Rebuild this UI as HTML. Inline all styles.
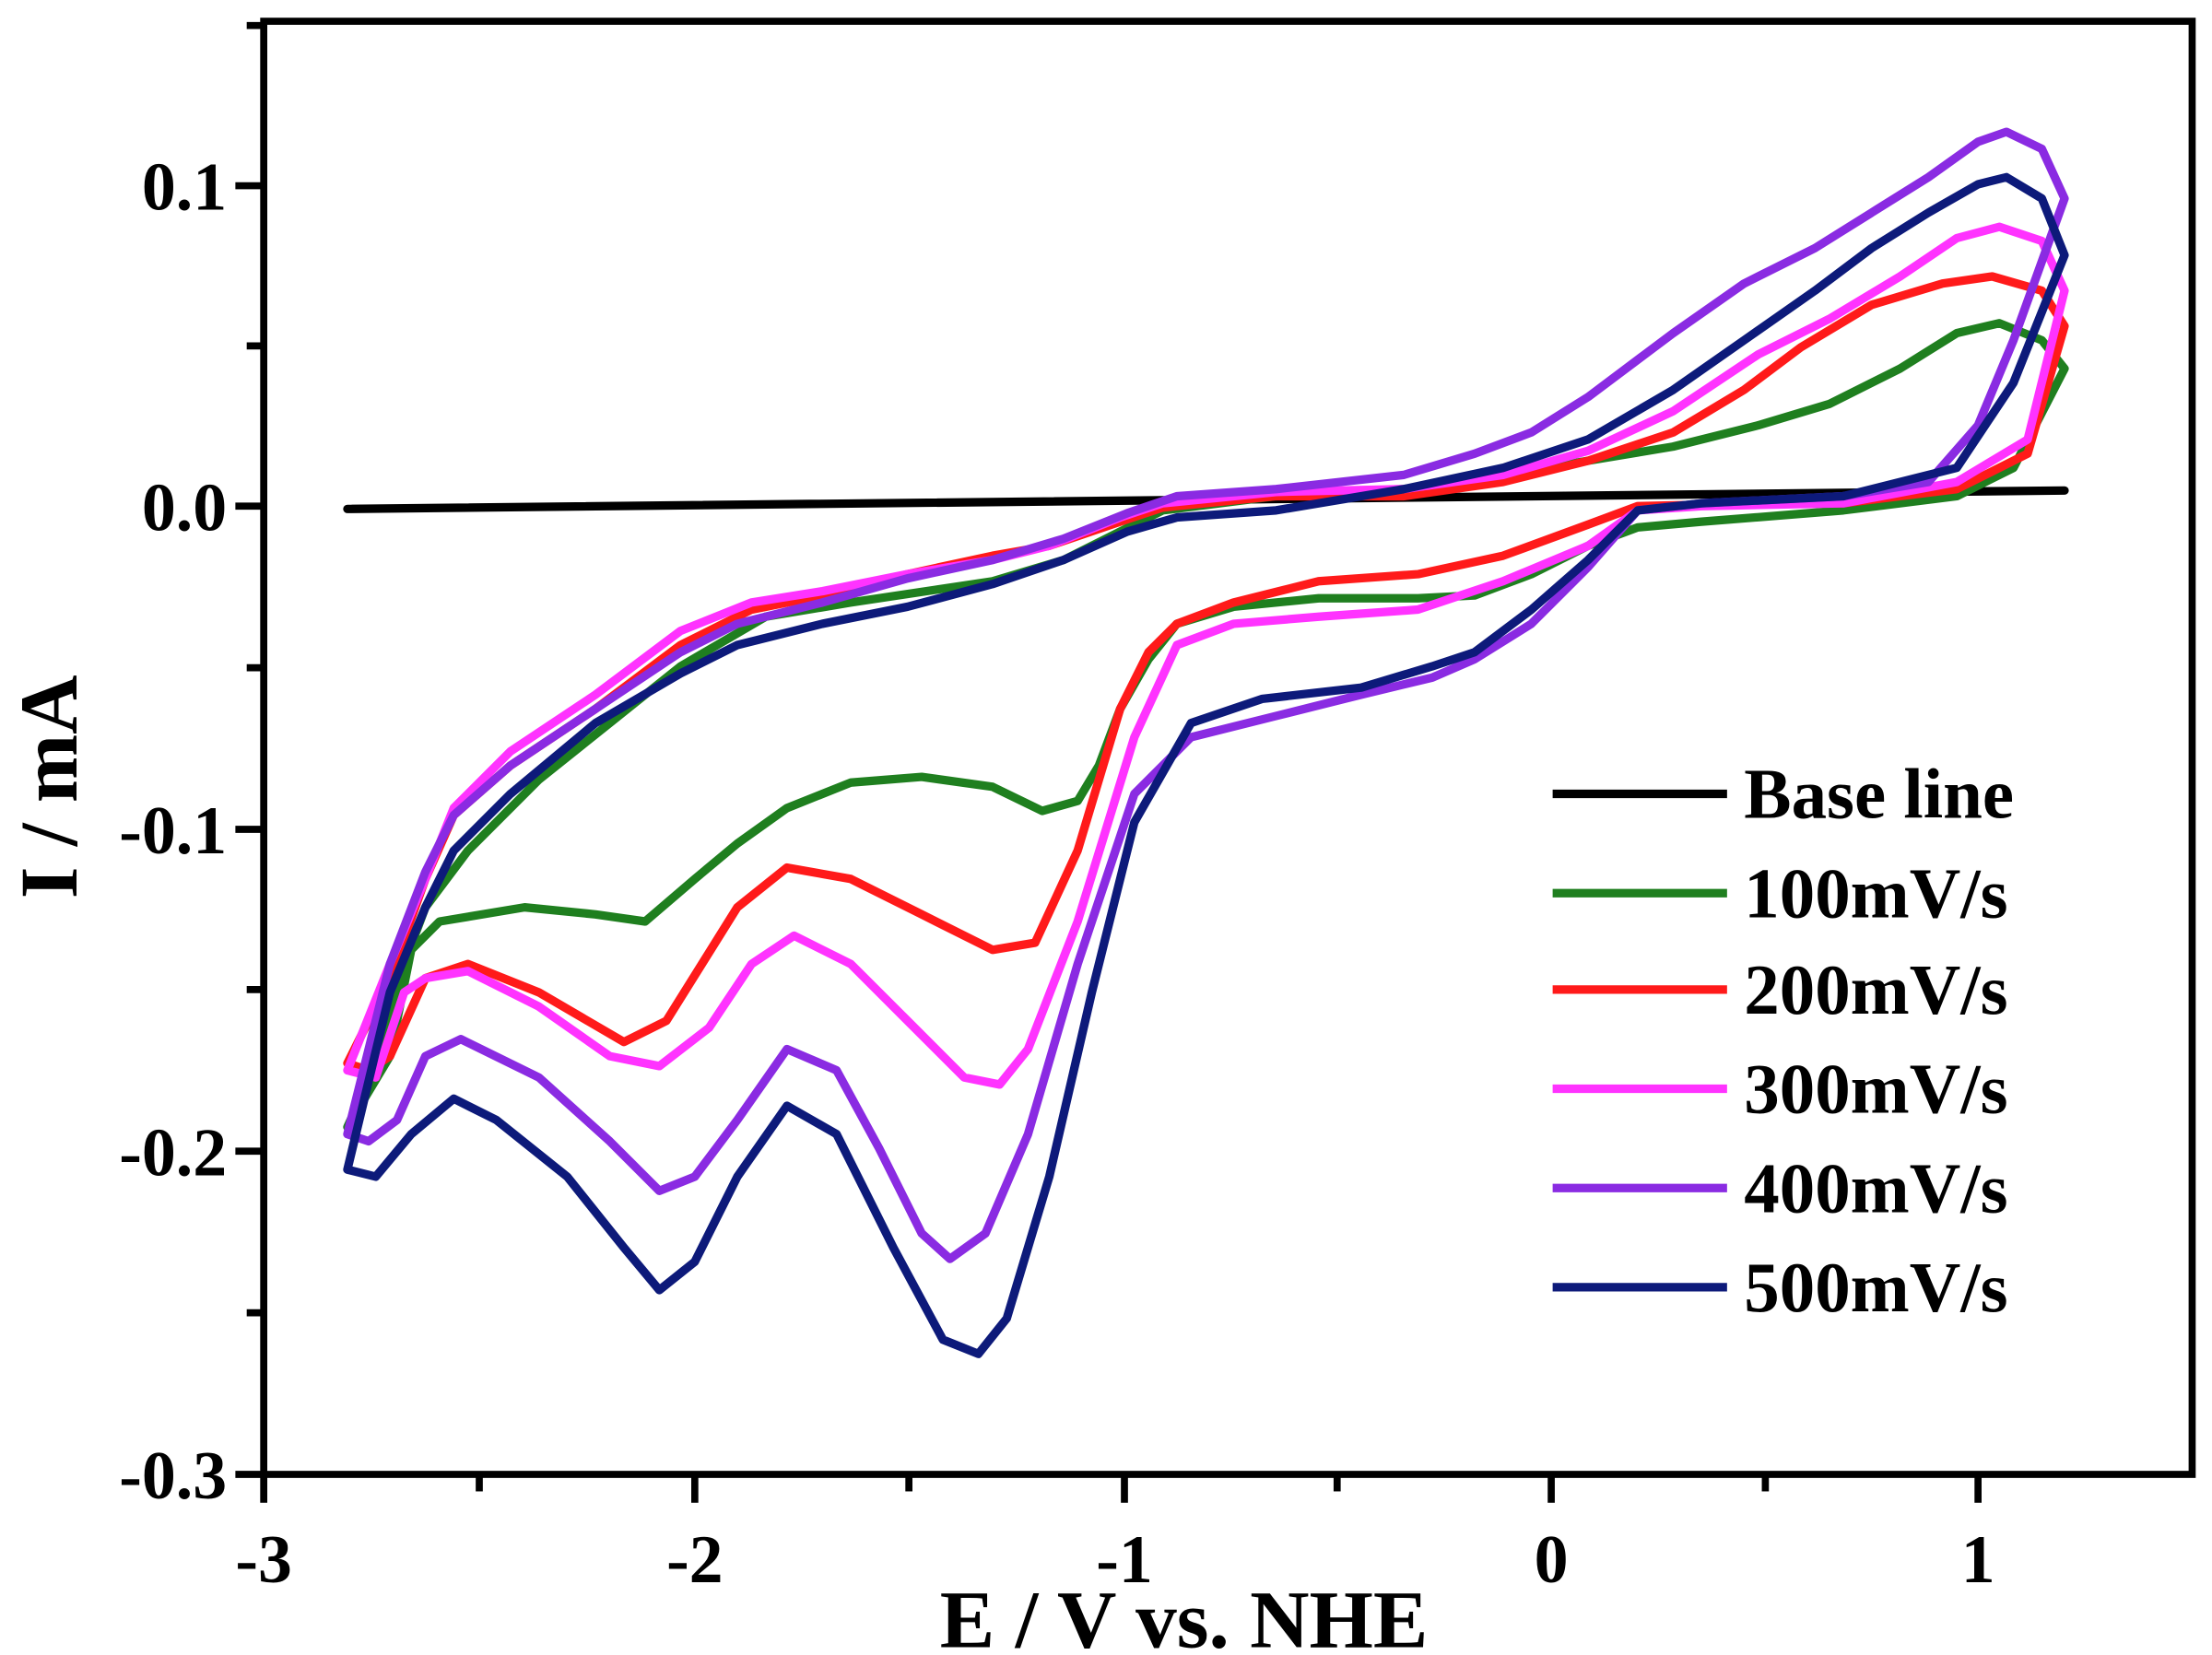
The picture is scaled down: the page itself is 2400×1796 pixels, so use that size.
<!DOCTYPE html>
<html><head><meta charset="utf-8"><style>
html,body{margin:0;padding:0;background:#fff;}
svg{display:block;}
text{font-family:"Liberation Serif",serif;font-weight:bold;fill:#000;}
</style></head><body>
<svg width="2400" height="1796" viewBox="0 0 1560 1167.4" preserveAspectRatio="none" xmlns="http://www.w3.org/2000/svg">
<rect width="1560" height="1168" fill="#fff"/>
<g fill="none" stroke-width="6" stroke-linejoin="round" stroke-linecap="round">
<polyline stroke="#000" points="245,359 1456,346"/>
<polyline stroke="#1f7f1f" points="245,795 275,745 290,670 310,650 370,640 420,645 455,650 490,620 520,595 555,570 600,552 650,548 700,555 735,572 760,565 775,540 790,500 810,465 830,440 870,428 930,422 1000,422 1040,420 1080,405 1120,385 1155,372 1200,368 1300,360 1380,350 1420,330 1456,260 1440,240 1410,228 1380,235 1340,260 1290,285 1240,300 1180,315 1120,325 1060,335 990,345 900,350 820,360 790,375 750,395 700,410 600,425 540,435 480,470 430,510 380,550 330,600 300,640 285,680 270,740 245,795"/>
<polyline stroke="#ff1a1a" points="245,750 260,755 275,745 300,690 330,680 380,700 440,735 470,720 520,640 555,612 600,620 650,645 700,670 730,665 760,600 790,500 810,460 830,440 870,425 930,410 1000,405 1060,392 1120,370 1155,357 1200,356 1300,355 1380,345 1430,320 1456,230 1440,205 1405,195 1370,200 1320,215 1270,245 1230,275 1180,305 1120,325 1060,340 990,350 900,350 820,358 790,368 740,385 700,392 640,405 580,420 530,430 480,455 420,500 360,540 320,575 300,620 275,690 245,750"/>
<polyline stroke="#ff33ff" points="245,755 265,760 285,700 300,690 330,685 380,710 430,745 465,752 500,725 530,680 560,660 600,680 640,720 680,760 705,765 725,740 760,650 800,520 830,455 870,440 930,435 1000,430 1060,410 1120,385 1155,360 1200,357 1300,355 1380,340 1430,310 1456,205 1440,170 1410,160 1380,168 1340,195 1290,225 1240,250 1180,290 1120,318 1060,335 990,345 900,347 820,355 790,365 740,385 700,395 640,405 580,417 530,425 480,445 420,490 360,530 320,570 300,620 275,680 245,755"/>
<polyline stroke="#8a2be2" points="245,800 260,805 280,790 300,745 325,733 380,760 430,805 465,840 490,830 520,790 555,740 590,755 620,810 650,870 670,888 695,870 725,800 760,680 800,560 840,520 900,505 960,490 1010,478 1040,465 1080,440 1120,400 1155,360 1200,355 1300,350 1360,340 1395,300 1420,240 1456,140 1440,105 1415,93 1395,100 1360,125 1320,150 1280,175 1230,200 1180,235 1120,280 1080,305 1040,320 990,335 900,345 830,350 795,362 750,380 700,395 640,408 580,425 520,440 480,460 420,500 360,540 320,575 300,615 275,680 245,800"/>
<polyline stroke="#0d1a7a" points="245,825 265,830 290,800 320,775 350,790 400,830 440,880 465,910 490,890 520,830 555,780 590,800 630,880 665,945 690,955 710,930 740,830 770,700 800,580 840,510 890,493 960,485 1010,470 1040,460 1080,430 1120,395 1155,360 1200,355 1300,350 1380,330 1420,270 1456,180 1440,140 1415,125 1395,130 1360,150 1320,175 1280,205 1230,240 1180,275 1120,310 1060,330 990,345 900,360 830,365 795,375 750,395 700,412 640,428 580,440 520,455 480,475 420,510 360,560 320,600 300,640 275,700 245,825"/>
</g>
<rect x="186" y="15" width="1360" height="1025" fill="none" stroke="#000" stroke-width="5"/>
<g stroke="#000" stroke-width="5">
<line x1="186" y1="1040" x2="186" y2="1060"/><line x1="338" y1="1040" x2="338" y2="1052"/>
<line x1="490" y1="1040" x2="490" y2="1060"/><line x1="641" y1="1040" x2="641" y2="1052"/>
<line x1="793" y1="1040" x2="793" y2="1060"/><line x1="943" y1="1040" x2="943" y2="1052"/>
<line x1="1094" y1="1040" x2="1094" y2="1060"/><line x1="1245" y1="1040" x2="1245" y2="1052"/>
<line x1="1395" y1="1040" x2="1395" y2="1060"/>
<line x1="166" y1="131" x2="186" y2="131"/><line x1="174" y1="244" x2="186" y2="244"/>
<line x1="166" y1="357" x2="186" y2="357"/><line x1="174" y1="471" x2="186" y2="471"/>
<line x1="166" y1="585" x2="186" y2="585"/><line x1="174" y1="698" x2="186" y2="698"/>
<line x1="166" y1="812" x2="186" y2="812"/><line x1="174" y1="926" x2="186" y2="926"/>
<line x1="166" y1="1040" x2="186" y2="1040"/><line x1="174" y1="18" x2="186" y2="18"/>
</g>
<g font-size="48" text-anchor="end">
<text x="160" y="148">0.1</text><text x="160" y="374">0.0</text>
<text x="160" y="602">-0.1</text><text x="160" y="829">-0.2</text><text x="160" y="1057">-0.3</text>
</g>
<g font-size="48" text-anchor="middle">
<text x="186" y="1116">-3</text><text x="490" y="1116">-2</text><text x="793" y="1116">-1</text>
<text x="1094" y="1116">0</text><text x="1395" y="1116">1</text>
</g>
<text x="835" y="1162" font-size="58" text-anchor="middle">E / V vs. NHE</text>
<text transform="translate(54,555) rotate(-90)" font-size="58" text-anchor="middle">I / mA</text>
<g stroke-width="6">
<line x1="1095" y1="560" x2="1218" y2="560" stroke="#000"/>
<line x1="1095" y1="630" x2="1218" y2="630" stroke="#1f7f1f"/>
<line x1="1095" y1="698" x2="1218" y2="698" stroke="#ff1a1a"/>
<line x1="1095" y1="768" x2="1218" y2="768" stroke="#ff33ff"/>
<line x1="1095" y1="838" x2="1218" y2="838" stroke="#8a2be2"/>
<line x1="1095" y1="908" x2="1218" y2="908" stroke="#0d1a7a"/>
</g>
<g font-size="50">
<text x="1230" y="577">Base line</text><text x="1230" y="647">100mV/s</text>
<text x="1230" y="715">200mV/s</text><text x="1230" y="785">300mV/s</text>
<text x="1230" y="855">400mV/s</text><text x="1230" y="925">500mV/s</text>
</g>
</svg>
</body></html>
